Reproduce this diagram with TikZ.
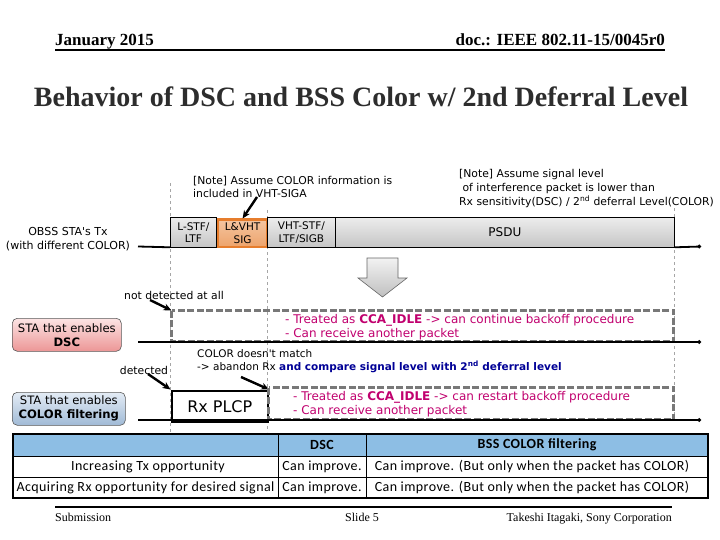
\documentclass[tikz,border=0pt]{standalone}
\usepackage{fontspec}
\setmainfont{Liberation Serif}
\newfontfamily\vfont{DejaVu Sans}
\newfontfamily\cfont[LetterSpace=3]{Carlito}
\usetikzlibrary{arrows.meta,shapes.geometric}
\definecolor{mag}{RGB}{192,0,110}
\definecolor{dblue}{RGB}{0,0,150}
\definecolor{hdrblue}{RGB}{141,190,228}
\definecolor{orng}{RGB}{230,125,45}
\definecolor{titlegray}{RGB}{45,45,45}
\definecolor{dashgray}{RGB}{120,120,120}
\definecolor{pinktop}{RGB}{252,228,228}
\definecolor{pinkbot}{RGB}{236,150,150}
\definecolor{bluetop}{RGB}{228,236,245}
\definecolor{bluebot}{RGB}{160,186,214}
\tikzset{
  vtext/.style={font=\vfont\fontsize{10.8}{13}\selectfont, inner sep=0pt, align=left},
  graybox/.style={draw=black, line width=0.8pt, top color=gray!15, bottom color=gray!45, inner sep=0pt, font=\vfont\fontsize{10.5}{12.5}\selectfont, align=center},
  dashframe/.style={draw=dashgray, line width=3pt, dash pattern=on 7pt off 2.5pt},
  vdash/.style={draw=gray!70, dashed, line width=0.6pt},
  pointer/.style={-{Stealth[length=8pt,width=7pt]}, line width=2.4pt},
  tline/.style={line width=1.8pt, -{Circle[length=3.5pt]}},
  stabox/.style={rounded corners=5pt, draw=gray!70!black, line width=0.6pt, minimum width=109pt, minimum height=33pt, align=center, font=\vfont\fontsize{11.6}{14}\selectfont, inner sep=0pt},
  tcell/.style={font=\cfont\fontsize{14}{16}\selectfont, inner sep=0pt}
}
\begin{document}
\begin{tikzpicture}[x=1pt,y=-1pt]
\useasboundingbox (0,0) rectangle (720,540);
% header
\node[anchor=base west, font=\bfseries\fontsize{17}{19}\selectfont, inner sep=0pt] (date) at (55,46) {January 2015};
\node[anchor=base east, font=\bfseries\fontsize{17}{19}\selectfont, inner sep=0pt] (doc) at (665,46) {doc.: IEEE 802.11-15/0045r0};
\draw[line width=1.8pt] (55,50) -- (665,50);
\node[font=\bfseries\fontsize{28}{31}\selectfont, inner sep=0pt, text=titlegray] (title) at (361,97) {Behavior of DSC and BSS Color w/ 2nd Deferral Level};

% dashed vertical lines
\draw[vdash] (170,183) -- (170,432);
\draw[vdash] (267,210) -- (267,432);
\draw[vdash] (674,208) -- (674,420);

% frame boxes
\node[graybox, minimum width=46pt, minimum height=29pt, anchor=north west] (lstf) at (170,217.5) {L-STF/\\LTF};
\node[draw=orng, line width=2.2pt, top color=orng!45, bottom color=orng!70, inner sep=0pt, minimum width=49pt, minimum height=27pt, anchor=north west, font=\vfont\fontsize{10.5}{12.5}\selectfont, align=center] (sig) at (217,218.5) {L\&VHT\\SIG};
\node[graybox, minimum width=68pt, minimum height=29pt, anchor=north west] (vht) at (267,217.5) {VHT-STF/\\LTF/SIGB};
\node[graybox, minimum width=339pt, minimum height=29pt, anchor=north west, font=\vfont\fontsize{12}{14}\selectfont] (psdu) at (335,217.5) {PSDU};
\coordinate (obssL) at (138,246.5);
\coordinate (obssR) at (701,246.5);
\draw[line width=1.8pt] (obssL) -- (lstf.south west);
\draw[tline] (psdu.south east) -- (obssR);
\node[vtext, align=center, font=\vfont\fontsize{11}{14}\selectfont] (obss) at (68,239) {OBSS STA's Tx\\(with different COLOR)};

% notes
\node[vtext, anchor=north west] (note1) at (193,176) {[Note] Assume COLOR information is\\included in VHT-SIGA};
\draw[pointer] (257,197) -- (sig.north);
\node[vtext, anchor=north west, font=\vfont\fontsize{10.8}{14}\selectfont] (note2) at (459,169) {[Note] Assume signal level\\\ of interference packet is lower than\\Rx sensitivity(DSC) / 2\textsuperscript{nd} deferral Level(COLOR)};

% block arrow
\path[draw=gray!80!black, line width=0.6pt, top color=gray!10, bottom color=gray!50]
  (367,258) -- (398,258) -- (398,278) -- (407,278) -- (382.5,297) -- (358,278) -- (367,278) -- cycle;

% DSC row
\node[vtext] (nd) at (174,295) {not detected at all};
\node[minimum width=502pt, minimum height=31pt, anchor=north west, inner sep=0pt] (dscbox) at (171.5,310.5) {};
\draw[dashframe] (dscbox.north west) rectangle (dscbox.south east);
\draw[pointer] (150,300) -- (dscbox.north west);
\node[vtext, anchor=north west, text=mag, font=\vfont\fontsize{12}{14}\selectfont] (dsct) at (285,314) {- Treated as \textbf{CCA\_IDLE} -> can continue backoff procedure\\- Can receive another packet};
\coordinate (dscL) at (138,342);
\coordinate (dscR) at (701,342);
\draw[tline] (dscL) -- (dscR);
\node[stabox, top color=pinktop, bottom color=pinkbot, anchor=north west] (stadsc) at (12,318) {STA that enables\\\textbf{DSC}};

% COLOR row
\node[vtext, anchor=north west, font=\vfont\fontsize{10.5}{13}\selectfont] (cdm) at (197,349) {COLOR doesn't match\\ -> abandon Rx {\color{dblue}\bfseries and compare signal level with 2\textsuperscript{nd} deferral level}};
\node[vtext] (det) at (144,370) {detected};
\node[draw=black, line width=2.6pt, minimum width=96pt, minimum height=31pt, anchor=north west, inner sep=0pt, font=\vfont\fontsize{16}{18}\selectfont] (rxplcp) at (170.5,389.5) {Rx PLCP};
\draw[pointer] (148,374) -- (rxplcp.north west);
\draw[pointer] (241,377) -- (rxplcp.north east);
\node[minimum width=405pt, minimum height=32pt, anchor=north west, inner sep=0pt] (colbox) at (268.5,387.5) {};
\draw[dashframe] (colbox.north west) rectangle (colbox.south east);
\node[vtext, anchor=north west, text=mag, font=\vfont\fontsize{12}{14}\selectfont] (colt) at (293,391) {- Treated as \textbf{CCA\_IDLE} -> can restart backoff procedure\\- Can receive another packet};
\coordinate (colL) at (138,420);
\coordinate (colR) at (701,420);
\draw[tline] (colL) -- (colR);
\node[stabox, top color=bluetop, bottom color=bluebot, minimum width=113pt, anchor=north west] (stacol) at (12,392) {STA that enables\\\textbf{COLOR filtering}};

% table
\fill[hdrblue] (13,434) rectangle (708,456);
\draw[line width=1.4pt] (13,434) rectangle (708,498);
\draw[line width=0.9pt] (13,456) -- (708,456) (13,477) -- (708,477);
\draw[line width=0.9pt] (278,434) -- (278,498) (366,434) -- (366,498);
\node[tcell, font=\cfont\bfseries\fontsize{14}{16}\selectfont] (h2) at (322,445) {DSC};
\node[tcell, font=\cfont\bfseries\fontsize{14}{16}\selectfont] (h3) at (537,445) {BSS COLOR filtering};
\node[tcell] (r1c1) at (148,466.5) {Increasing Tx opportunity};
\node[tcell] (r1c2) at (322,466.5) {Can improve.};
\node[tcell] (r1c3) at (532,466.5) {Can improve. (But only when the packet has COLOR)};
\node[tcell] (r2c1) at (145.5,487.5) {Acquiring Rx opportunity for desired signal};
\node[tcell] (r2c2) at (322,487.5) {Can improve.};
\node[tcell] (r2c3) at (532,487.5) {Can improve. (But only when the packet has COLOR)};

% footer
\draw[line width=1.4pt] (55,507) -- (672,507);
\node[anchor=base west, font=\fontsize{12}{14}\selectfont, inner sep=0pt] (sub) at (55,521) {Submission};
\node[anchor=base, font=\fontsize{12}{14}\selectfont, inner sep=0pt] (slide) at (362,521) {Slide 5};
\node[anchor=base east, font=\fontsize{12}{14}\selectfont, inner sep=0pt] (auth) at (672,521) {Takeshi Itagaki, Sony Corporation};
\end{tikzpicture}
\end{document}
